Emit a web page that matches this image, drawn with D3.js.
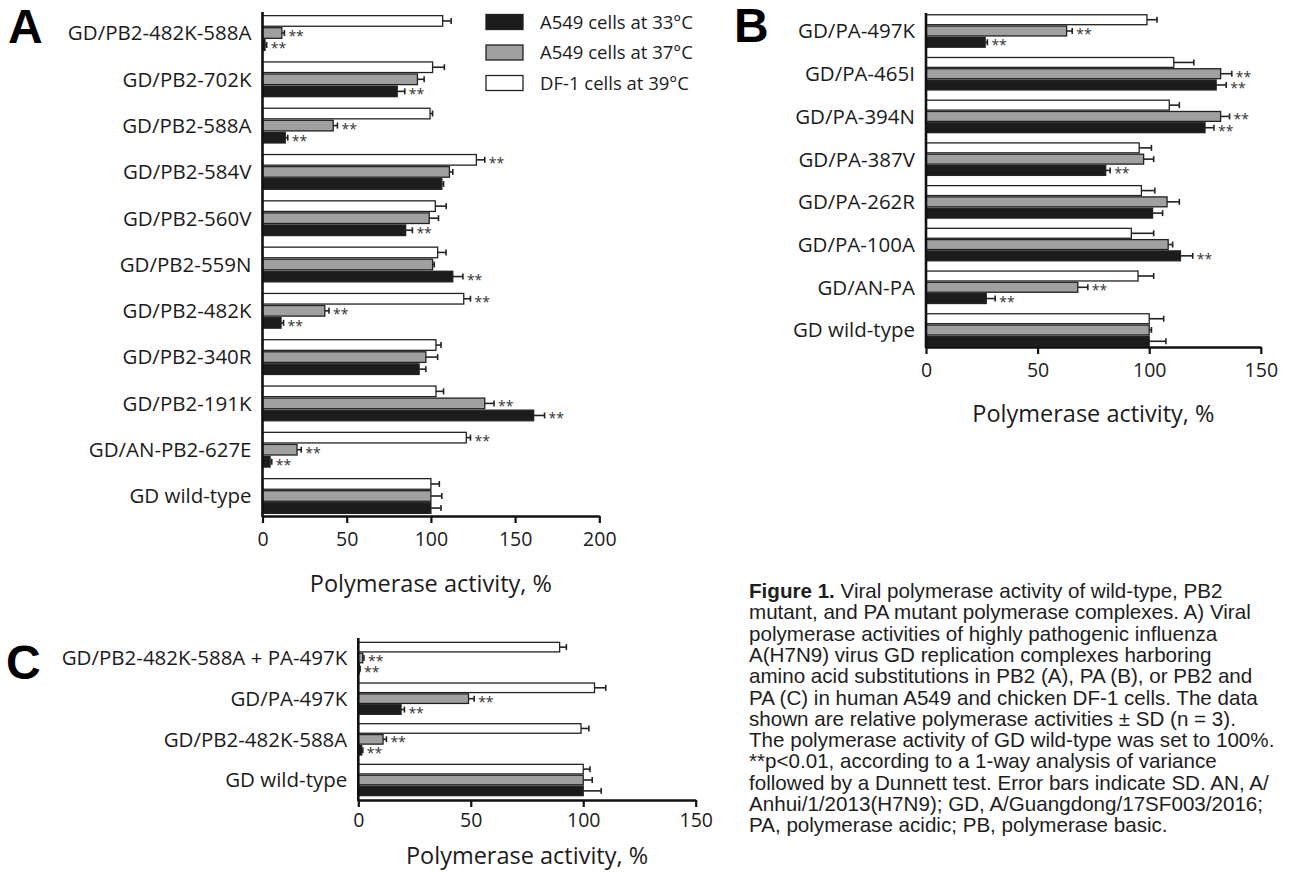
<!DOCTYPE html>
<html>
<head>
<meta charset="utf-8">
<script src="https://cdn.jsdelivr.net/npm/d3@7"></script>
<style>
  html, body { margin: 0; padding: 0; background: #fff; }
  svg { display: block; }
</style>
</head>
<body>
<svg id="fig" width="1294" height="872"></svg>
<script>
// ---- Series (top to bottom inside each group) ----
const seriesKeys = ["df1_39", "a549_37", "a549_33"];
const legendKeys = ["a549_33", "a549_37", "df1_39"];
const legendLabels = ["A549 cells at 33°C", "A549 cells at 37°C", "DF-1 cells at 39°C"];

// ---- Panel A: PB2 mutants ----
const catsA = ["GD/PB2-482K-588A", "GD/PB2-702K", "GD/PB2-588A", "GD/PB2-584V", "GD/PB2-560V",
               "GD/PB2-559N", "GD/PB2-482K", "GD/PB2-340R", "GD/PB2-191K", "GD/AN-PB2-627E", "GD wild-type"];
const valsA39 = [107, 101, 99.5, 127, 102.6, 104, 119.5, 103, 103, 121, 100];
const sdA39   = [5, 7, 1.5, 5, 6.5, 5, 4, 3, 4.5, 2.5, 5];
const sigA39  = [0, 0, 0, 1, 0, 0, 1, 0, 0, 1, 0];
const valsA37 = [11.5, 92, 42, 111, 99, 101, 37, 97, 132, 20.5, 100];
const sdA37   = [1.5, 4, 2.5, 2, 5.5, 1, 2.5, 7, 5.5, 2.5, 6.5];
const sigA37  = [1, 0, 1, 0, 0, 0, 1, 0, 1, 1, 0];
const valsA33 = [1.5, 80, 13.5, 106.5, 85, 113, 11, 93, 161, 4.5, 100];
const sdA33   = [1, 4.5, 1.5, 1, 4, 6, 1.5, 4, 6.5, 1, 6];
const sigA33  = [1, 1, 1, 0, 1, 1, 1, 0, 1, 1, 0];
const ticksA  = [0, 50, 100, 150, 200];

// ---- Panel B: PA mutants ----
const catsB = ["GD/PA-497K", "GD/PA-465I", "GD/PA-394N", "GD/PA-387V", "GD/PA-262R",
               "GD/PA-100A", "GD/AN-PA", "GD wild-type"];
const valsB39 = [99, 111, 109, 95.5, 96.5, 92, 95, 100];
const sdB39   = [4.5, 9, 4.5, 5.5, 6, 10, 7, 6.5];
const sigB39  = [0, 0, 0, 0, 0, 0, 0, 0];
const valsB37 = [63, 132, 132, 97.5, 108, 108.5, 68, 100];
const sdB37   = [2.5, 5, 4, 4.5, 5.5, 2, 4.5, 1];
const sigB37  = [1, 1, 1, 0, 0, 0, 1, 0];
const valsB33 = [26.5, 130, 125, 80.5, 101.5, 114, 27, 100];
const sdB33   = [1, 4.5, 4, 2, 4.5, 5.5, 4, 7.5];
const sigB33  = [1, 1, 1, 1, 0, 1, 1, 0];
const ticksB  = [0, 50, 100, 150];

// ---- Panel C: PB2 + PA combination ----
const catsC = ["GD/PB2-482K-588A + PA-497K", "GD/PA-497K", "GD/PB2-482K-588A", "GD wild-type"];
const valsC39 = [89.5, 105, 99, 100];
const sdC39   = [3, 5, 3.5, 3];
const sigC39  = [0, 0, 0, 0];
const valsC37 = [2, 49, 11, 100];
const sdC37   = [0.5, 2.5, 1.5, 4];
const sigC37  = [1, 1, 1, 0];
const valsC33 = [0.5, 19, 1.5, 100];
const sdC33   = [0.3, 1.5, 0.5, 8];
const sigC33  = [1, 1, 1, 0];
const ticksC  = [0, 50, 100, 150];

const axisTitle = "Polymerase activity, %";

// ---- Styling ----
const FONT = "'Open Sans', 'Noto Sans', sans-serif";
const INK = "#1b1b1b";
const fills = { df1_39: "#ffffff", a549_37: "#a0a0a0", a549_33: "#1c1c1c" };

const svg = d3.select("#fig");

function drawPanel(cfg, cats, series) {
  const g = svg.append("g");
  const x = d3.scaleLinear().domain([0, cfg.max]).range([cfg.x0, cfg.x1]);
  const step = (cfg.cLast - cfg.cFirst) / (cats.length - 1);
  const y = d3.scaleBand().domain(cats)
    .range([cfg.cFirst - step / 2, cfg.cLast + step / 2])
    .paddingInner(cfg.pad).paddingOuter(cfg.pad / 2);
  const ys = d3.scaleBand().domain(seriesKeys).range([0, y.bandwidth()]).paddingInner(0.12);

  // bars
  series.forEach(s => {
    const rows = cats.map((c, i) => ({ c, v: s.values[i], sd: s.sd[i], sig: s.sig[i] }));
    const sg = g.append("g");
    sg.selectAll("rect").data(rows).join("rect")
      .attr("x", x(0))
      .attr("y", d => y(d.c) + ys(s.key))
      .attr("width", d => Math.max(0, x(d.v) - x(0)))
      .attr("height", ys.bandwidth())
      .attr("fill", fills[s.key])
      .attr("stroke", "#222")
      .attr("stroke-width", 1.3);

    const cy = d => y(d.c) + ys(s.key) + ys.bandwidth() / 2;
    // one-sided SD error bars
    sg.selectAll("line.err").data(rows).join("line").attr("class", "err")
      .attr("x1", d => x(d.v)).attr("x2", d => x(d.v + d.sd))
      .attr("y1", cy).attr("y2", cy)
      .attr("stroke", "#222").attr("stroke-width", 1.6);
    sg.selectAll("line.cap").data(rows).join("line").attr("class", "cap")
      .attr("x1", d => x(d.v + d.sd)).attr("x2", d => x(d.v + d.sd))
      .attr("y1", d => cy(d) - 3).attr("y2", d => cy(d) + 3)
      .attr("stroke", "#222").attr("stroke-width", 1.6);
    // significance marks
    sg.selectAll("text.sig").data(rows.filter(d => d.sig)).join("text").attr("class", "sig")
      .attr("x", d => x(d.v + d.sd) + 4)
      .attr("y", d => cy(d) + 8)
      .attr("font-family", FONT).attr("font-size", 14).attr("fill", "#333")
      .text("**");
  });

  // category labels (left axis)
  const ya = g.append("g").attr("transform", `translate(${cfg.x0},0)`)
    .call(d3.axisLeft(y).tickSize(0).tickPadding(11));
  ya.select(".domain").remove();
  ya.selectAll("text").attr("font-family", FONT).attr("font-size", cfg.labelSize)
    .attr("fill", INK).attr("dy", "0.36em");

  // vertical axis line
  g.append("line").attr("x1", cfg.x0).attr("x2", cfg.x0)
    .attr("y1", cfg.yTop).attr("y2", cfg.yAxis + 1)
    .attr("stroke", "#111").attr("stroke-width", 2.6);

  // value axis
  const xa = g.append("g").attr("transform", `translate(0,${cfg.yAxis})`)
    .call(d3.axisBottom(x).tickValues(cfg.ticks).tickSize(7).tickSizeOuter(0).tickPadding(cfg.tickPad));
  xa.select(".domain").attr("stroke", "#111").attr("stroke-width", 2.6);
  xa.selectAll(".tick line").attr("stroke", "#111").attr("stroke-width", 2.2);
  xa.selectAll("text").attr("font-family", FONT).attr("font-size", 19.5).attr("fill", INK);

  g.append("text")
    .attr("x", (cfg.x0 + cfg.x1) / 2).attr("y", cfg.titleY)
    .attr("text-anchor", "middle").attr("dominant-baseline", "central")
    .attr("font-family", FONT).attr("font-size", 23.5).attr("fill", INK)
    .text(axisTitle);

  g.append("text")
    .attr("x", cfg.letterX).attr("y", cfg.letterY)
    .attr("font-family", "'Liberation Sans', Arial, sans-serif").attr("font-weight", "bold")
    .attr("font-size", 48).attr("fill", "#000")
    .text(cfg.letter);
  return { x, y };
}

function mk(key, values, sd, sig) { return { key, values, sd, sig }; }

drawPanel({ letter: "A", letterX: 8, letterY: 43, max: 200, x0: 262.5, x1: 599.3,
            cFirst: 33, cLast: 496, pad: 0.25, yTop: 12, yAxis: 516,
            ticks: ticksA, tickPad: 9, titleY: 583, labelSize: 20.5 },
  catsA, [mk("df1_39", valsA39, sdA39, sigA39), mk("a549_37", valsA37, sdA37, sigA37), mk("a549_33", valsA33, sdA33, sigA33)]);

drawPanel({ letter: "B", letterX: 734, letterY: 42, max: 150, x0: 926, x1: 1260.8,
            cFirst: 31, cLast: 330, pad: 0.24, yTop: 13, yAxis: 347,
            ticks: ticksB, tickPad: 9, titleY: 413, labelSize: 20.5 },
  catsB, [mk("df1_39", valsB39, sdB39, sigB39), mk("a549_37", valsB37, sdB37, sigB37), mk("a549_33", valsB33, sdB33, sigB33)]);

drawPanel({ letter: "C", letterX: 6, letterY: 679, max: 150, x0: 358.3, x1: 695.7,
            cFirst: 658, cLast: 780, pad: 0.23, yTop: 638, yAxis: 800,
            ticks: ticksC, tickPad: 6, titleY: 855, labelSize: 20.5 },
  catsC, [mk("df1_39", valsC39, sdC39, sigC39), mk("a549_37", valsC37, sdC37, sigC37), mk("a549_33", valsC33, sdC33, sigC33)]);

// ---- Legend ----
const leg = svg.append("g");
legendKeys.forEach((k, i) => {
  const cy = 22 + i * 30.5;
  leg.append("rect").attr("x", 486).attr("y", cy - 7.5).attr("width", 37).attr("height", 15)
    .attr("fill", fills[k]).attr("stroke", "#222").attr("stroke-width", 1.3);
  leg.append("text").attr("x", 540).attr("y", cy).attr("dy", "0.36em")
    .attr("font-family", FONT).attr("font-size", 18.5).attr("fill", INK)
    .text(legendLabels[i]);
});

// ---- Caption ----
const captionLines = [
  [["Figure 1.", true], [" Viral polymerase activity of wild-type, PB2", false]],
  [["mutant, and PA mutant polymerase complexes. A) Viral", false]],
  [["polymerase activities of highly pathogenic influenza", false]],
  [["A(H7N9) virus GD replication complexes harboring", false]],
  [["amino acid substitutions in PB2 (A), PA (B), or PB2 and", false]],
  [["PA (C) in human A549 and chicken DF-1 cells. The data", false]],
  [["shown are relative polymerase activities ± SD (n = 3).", false]],
  [["The polymerase activity of GD wild-type was set to 100%.", false]],
  [["**p<0.01, according to a 1-way analysis of variance", false]],
  [["followed by a Dunnett test. Error bars indicate SD. AN, A/", false]],
  [["Anhui/1/2013(H7N9); GD, A/Guangdong/17SF003/2016;", false]],
  [["PA, polymerase acidic; PB, polymerase basic.", false]]
];
const cap = svg.append("text")
  .attr("font-family", "'Liberation Sans', Arial, sans-serif")
  .attr("font-size", 20.6).attr("fill", "#1e1e1e");
captionLines.forEach((parts, i) => {
  parts.forEach(([t, bold], j) => {
    const ts = cap.append("tspan").text(t).attr("font-weight", bold ? "bold" : "normal");
    if (j === 0) ts.attr("x", 749).attr("y", 598 + i * 21.3);
  });
});
</script>
</body>
</html>
